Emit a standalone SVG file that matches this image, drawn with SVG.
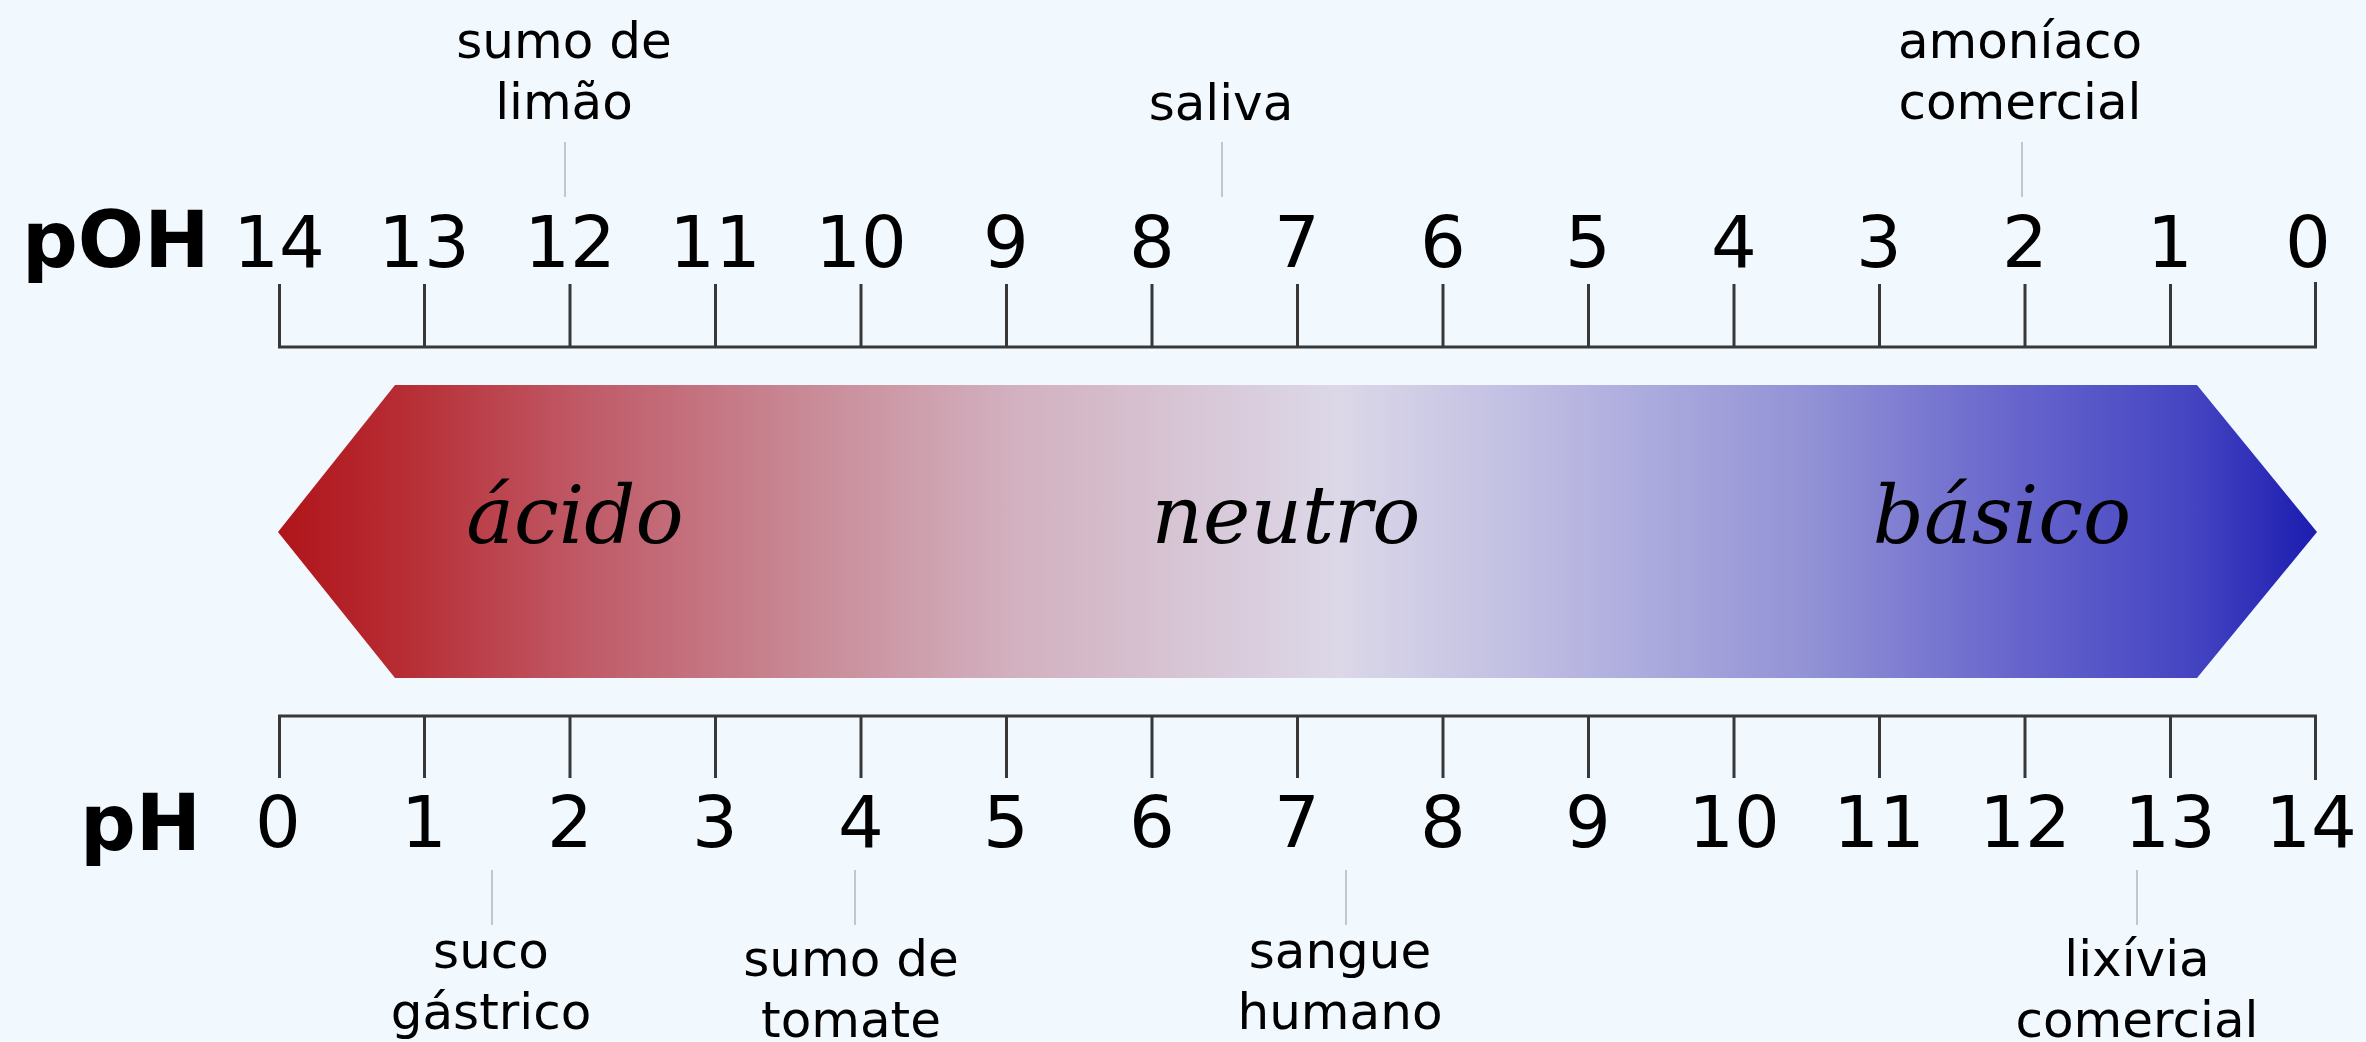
<svg xmlns="http://www.w3.org/2000/svg" width="2366" height="1042" viewBox="0 0 2366 1042">
<style>
.num{font-family:"DejaVu Sans",sans-serif;font-size:72px;fill:#000;text-anchor:middle}
.lab{font-family:"DejaVu Sans",sans-serif;font-size:78px;font-weight:bold;fill:#000}
.ann{font-family:"DejaVu Sans",sans-serif;font-size:50px;fill:#000;text-anchor:middle}
.big{font-family:"DejaVu Serif",serif;font-style:italic;font-size:80px;fill:#000;text-anchor:middle}
.axis{stroke:#383838;stroke-width:3;fill:none}
.lead{stroke:#c4c6c8;stroke-width:2;fill:none}
</style>
<defs>
<linearGradient id="band" gradientUnits="userSpaceOnUse" x1="278" y1="0" x2="2317" y2="0">
<stop offset="0" stop-color="#b0141a"/>
<stop offset="0.06" stop-color="#b72c33"/>
<stop offset="0.15" stop-color="#c05a67"/>
<stop offset="0.26" stop-color="#c98a97"/>
<stop offset="0.36" stop-color="#d2b0bf"/>
<stop offset="0.52" stop-color="#dcd8e8"/>
<stop offset="0.62" stop-color="#bdbbe2"/>
<stop offset="0.75" stop-color="#9292d6"/>
<stop offset="0.85" stop-color="#6866cc"/>
<stop offset="0.94" stop-color="#4444c2"/>
<stop offset="1" stop-color="#1c1cb0"/>
</linearGradient>
</defs>
<rect width="2366" height="1042" fill="#f1f8fe"/>

<g id="band-arrow">
<polygon points="278,532 395,385 2197,385 2317,532 2197,678 395,678" fill="url(#band)"/>
<text class="big" x="575" y="543">ácido</text>
<text class="big" x="1286" y="543">neutro</text>
<text class="big" x="2002" y="543">básico</text>
</g>

<g id="poh-scale">
<text class="lab" x="22" y="267">pOH</text>
<path class="axis" d="M279.5,284 V347 H2315.5 V282"/>
<path class="axis" d="M424.5,284V347M570,284V347M715.5,284V347M861,284V347M1006.5,284V347M1152,284V347M1297.5,284V347M1443,284V347M1588.5,284V347M1734,284V347M1879.5,284V347M2025,284V347M2170.5,284V347"/>
<text class="num" x="279" y="267">14</text>
<text class="num" x="424" y="267">13</text>
<text class="num" x="570" y="267">12</text>
<text class="num" x="715" y="267">11</text>
<text class="num" x="861" y="267">10</text>
<text class="num" x="1006" y="267">9</text>
<text class="num" x="1152" y="267">8</text>
<text class="num" x="1297" y="267">7</text>
<text class="num" x="1443" y="267">6</text>
<text class="num" x="1588" y="267">5</text>
<text class="num" x="1734" y="267">4</text>
<text class="num" x="1879" y="267">3</text>
<text class="num" x="2025" y="267">2</text>
<text class="num" x="2170" y="267">1</text>
<text class="num" x="2308" y="267">0</text>
</g>

<g id="ph-scale">
<text class="lab" x="80" y="850">pH</text>
<path class="axis" d="M279.5,778 V716 H2315.5 V780"/>
<path class="axis" d="M424.5,716V778M570,716V778M715.5,716V778M861,716V778M1006.5,716V778M1152,716V778M1297.5,716V778M1443,716V778M1588.5,716V778M1734,716V778M1879.5,716V778M2025,716V778M2170.5,716V778"/>
<text class="num" x="278" y="847">0</text>
<text class="num" x="424" y="847">1</text>
<text class="num" x="570" y="847">2</text>
<text class="num" x="715" y="847">3</text>
<text class="num" x="861" y="847">4</text>
<text class="num" x="1006" y="847">5</text>
<text class="num" x="1152" y="847">6</text>
<text class="num" x="1297" y="847">7</text>
<text class="num" x="1443" y="847">8</text>
<text class="num" x="1588" y="847">9</text>
<text class="num" x="1734" y="847">10</text>
<text class="num" x="1879" y="847">11</text>
<text class="num" x="2025" y="847">12</text>
<text class="num" x="2170" y="847">13</text>
<text class="num" x="2311" y="847">14</text>
</g>

<g id="connectors">
<path class="lead" d="M565,142V197"/>
<path class="lead" d="M1222,142V197"/>
<path class="lead" d="M2022,142V197"/>
<path class="lead" d="M492,870V925"/>
<path class="lead" d="M855,870V925"/>
<path class="lead" d="M1346,870V925"/>
<path class="lead" d="M2137,870V925"/>
</g>

<g id="label-limao">
<text class="ann" x="564" y="58">sumo de</text>
<text class="ann" x="564" y="119">limão</text>
</g>
<g id="label-saliva">
<text class="ann" x="1221" y="120">saliva</text>
</g>
<g id="label-amoniaco">
<text class="ann" x="2020" y="58">amoníaco</text>
<text class="ann" x="2020" y="119">comercial</text>
</g>
<g id="label-suco">
<text class="ann" x="491" y="968">suco</text>
<text class="ann" x="491" y="1029">gástrico</text>
</g>
<g id="label-tomate">
<text class="ann" x="851" y="976">sumo de</text>
<text class="ann" x="851" y="1037">tomate</text>
</g>
<g id="label-sangue">
<text class="ann" x="1340" y="968">sangue</text>
<text class="ann" x="1340" y="1029">humano</text>
</g>
<g id="label-lixivia">
<text class="ann" x="2137" y="976">lixívia</text>
<text class="ann" x="2137" y="1037">comercial</text>
</g>
</svg>
